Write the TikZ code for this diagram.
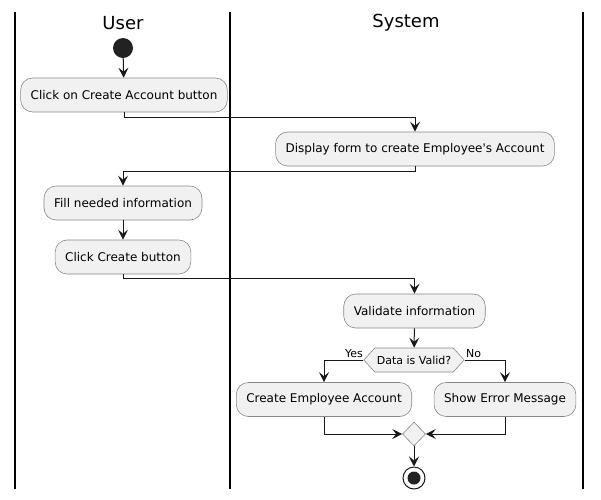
\documentclass[tikz,border=0pt]{standalone}
\usepackage{fontspec}
\setmainfont{DejaVu Sans}
\usetikzlibrary{arrows.meta,shapes.geometric,shapes.symbols}
\definecolor{actfill}{HTML}{F1F1F1}
\definecolor{actborder}{HTML}{888888}
\definecolor{ink}{HTML}{181818}
\definecolor{startfill}{HTML}{222222}
\tikzset{
  act/.style={rectangle, rounded corners=12pt, draw=actborder, fill=actfill, line width=0.6pt,
    minimum height=34pt, inner xsep=10pt, font=\fontsize{12}{14}\selectfont, text=black},
  flow/.style={draw=ink, line width=1pt, -{Stealth[length=10pt,width=10pt,inset=4pt]}},
  plain/.style={draw=ink, line width=1pt},
  lane/.style={draw=black, line width=1.2pt},
  lanetitle/.style={font=\fontsize{18}{20}\selectfont, text=black},
  decision/.style={signal, signal to=west and east, signal pointer angle=95, draw=actborder, fill=actfill,
    line width=0.6pt, minimum height=24pt, inner xsep=2pt, inner ysep=0pt, font=\fontsize{11}{13}\selectfont},
  merge/.style={diamond, draw=actborder, fill=actfill, line width=0.6pt, minimum width=23pt, minimum height=24pt, inner sep=0pt},
  guard/.style={font=\fontsize{11}{13}\selectfont, inner sep=0pt}
}
\begin{document}
\begin{tikzpicture}[x=1pt,y=-1pt]
\useasboundingbox (0,0) rectangle (601,499);
% lanes
\draw[lane] (15,12) -- (15,489);
\draw[lane] (230,12) -- (230,489);
\draw[lane] (583,12) -- (583,489);
\node[lanetitle] (tUser) at (123,23) {User};
\node[lanetitle] (tSys) at (406,23) {System};
% nodes
\node[circle, fill=startfill, minimum size=20pt, inner sep=0pt] (start) at (123,48) {};
\node[act] (n1) at (124,95) {Click on Create Account button};
\node[act] (n2) at (415,149) {Display form to create Employee\textquotesingle s Account};
\node[act] (n3) at (123,203) {Fill needed information};
\node[act] (n4) at (123,257) {Click Create button};
\node[act] (n5) at (414.5,311) {Validate information};
\node[decision] (d1) at (414,360) {Data is Valid?};
\node[act] (n6) at (324,399.5) {Create Employee Account};
\node[act] (n7) at (505,399.5) {Show Error Message};
\node[merge] (m1) at (414,434) {};
\node[circle, draw=ink, fill=white, line width=1pt, minimum size=22pt, inner sep=0pt] (stop) at (414,478) {};
\node[circle, fill=startfill, minimum size=13pt, inner sep=0pt] (stopin) at (stop.center) {};
% labels
\node[guard, anchor=base east] (yes) at (363,357) {Yes};
\node[guard, anchor=base west] (no) at (466,357) {No};
% connectors
\draw[flow] (start) -- (n1);
\draw[flow] (n1.south) -- ++(0,5) -| (n2.north);
\draw[flow] (n2.south) -- ++(0,5) -| (n3.north);
\draw[flow] (n3) -- (n4);
\draw[flow] (n4.south) -- ++(0,4) -| (n5.north);
\draw[flow] (n5) -- (d1);
\draw[flow] (d1.west) -| (n6.north);
\draw[flow] (d1.east) -| (n7.north);
\draw[flow] (n6.south) |- (m1.west);
\draw[flow] (n7.south) |- (m1.east);
\draw[flow] (m1.south) -- (stop.north);
\end{tikzpicture}
\end{document}
